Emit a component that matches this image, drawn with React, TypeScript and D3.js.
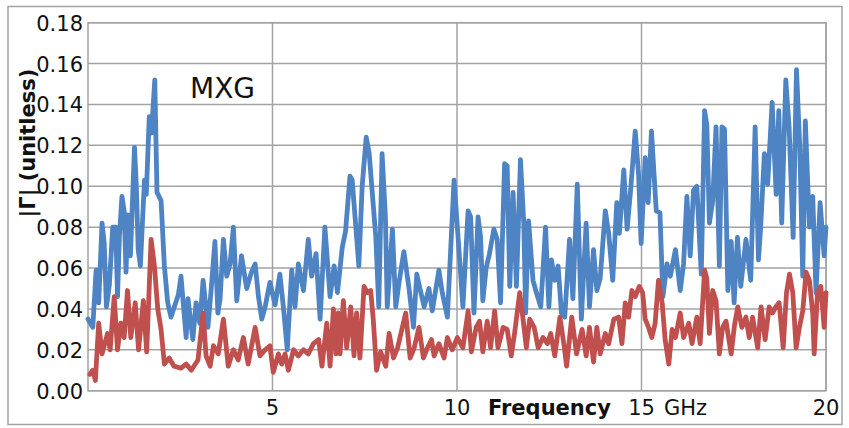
import React from "react";
import * as d3 from "d3";

// Frequency (GHz) / |Γ| samples
const blueSeries: [number, number][] = [
  [0.0,0.035],[0.13,0.031],[0.22,0.059],[0.29,0.043],[0.38,0.082],[0.44,0.072],[0.50,0.041],[0.58,0.052],[0.67,0.080],[0.75,0.080],
  [0.80,0.046],[0.85,0.075],[0.92,0.095],[0.98,0.088],[1.03,0.058],[1.08,0.086],[1.15,0.066],[1.26,0.119],[1.31,0.100],[1.36,0.069],
  [1.42,0.061],[1.53,0.103],[1.58,0.096],[1.66,0.134],[1.72,0.126],[1.81,0.152],[1.87,0.097],[1.98,0.093],[2.07,0.061],[2.16,0.043],
  [2.25,0.036],[2.32,0.040],[2.45,0.047],[2.52,0.056],[2.58,0.043],[2.66,0.026],[2.71,0.045],[2.84,0.025],[2.93,0.043],[3.03,0.033],
  [3.12,0.054],[3.25,0.031],[3.34,0.050],[3.44,0.073],[3.52,0.038],[3.58,0.045],[3.67,0.074],[3.76,0.056],[3.85,0.062],[3.94,0.080],
  [4.03,0.044],[4.16,0.066],[4.30,0.050],[4.43,0.058],[4.53,0.062],[4.62,0.046],[4.71,0.035],[4.80,0.041],[4.93,0.053],[5.07,0.042],
  [5.20,0.057],[5.30,0.040],[5.40,0.020],[5.52,0.059],[5.61,0.041],[5.70,0.062],[5.84,0.049],[5.97,0.074],[6.06,0.056],[6.18,0.067],
  [6.29,0.035],[6.42,0.080],[6.56,0.046],[6.67,0.061],[6.76,0.048],[6.89,0.070],[6.98,0.078],[7.10,0.105],[7.16,0.103],[7.34,0.061],
  [7.43,0.100],[7.54,0.124],[7.62,0.116],[7.80,0.075],[7.88,0.041],[7.97,0.116],[8.06,0.085],[8.11,0.041],[8.25,0.079],[8.34,0.041],
  [8.43,0.053],[8.56,0.068],[8.70,0.050],[8.82,0.031],[8.91,0.057],[9.02,0.048],[9.11,0.041],[9.24,0.050],[9.33,0.039],[9.51,0.059],
  [9.60,0.048],[9.74,0.036],[9.92,0.103],[10.01,0.080],[10.16,0.041],[10.30,0.088],[10.37,0.085],[10.46,0.038],[10.57,0.085],[10.64,0.075],
  [10.70,0.044],[10.79,0.060],[10.88,0.067],[11.00,0.079],[11.09,0.074],[11.18,0.043],[11.29,0.111],[11.36,0.110],[11.43,0.051],[11.52,0.097],
  [11.61,0.051],[11.72,0.113],[11.81,0.082],[11.86,0.038],[11.94,0.083],[12.06,0.054],[12.15,0.048],[12.27,0.041],[12.40,0.080],[12.49,0.041],
  [12.56,0.064],[12.65,0.054],[12.74,0.061],[12.83,0.038],[12.92,0.036],[13.05,0.074],[13.14,0.045],[13.26,0.101],[13.37,0.035],[13.50,0.082],
  [13.59,0.041],[13.70,0.069],[13.79,0.049],[13.88,0.055],[14.02,0.088],[14.11,0.077],[14.22,0.054],[14.33,0.092],[14.40,0.077],[14.52,0.108],
  [14.61,0.079],[14.70,0.097],[14.83,0.127],[14.92,0.106],[14.99,0.072],[15.10,0.114],[15.18,0.092],[15.27,0.127],[15.40,0.088],[15.50,0.087],
  [15.58,0.046],[15.69,0.062],[15.78,0.056],[15.92,0.069],[16.05,0.049],[16.14,0.062],[16.23,0.095],[16.32,0.066],[16.41,0.098],[16.50,0.100],
  [16.62,0.057],[16.71,0.137],[16.77,0.130],[16.84,0.082],[16.93,0.093],[17.02,0.129],[17.11,0.061],[17.18,0.129],[17.25,0.128],[17.34,0.049],
  [17.43,0.073],[17.51,0.043],[17.60,0.075],[17.69,0.051],[17.83,0.074],[17.96,0.054],[18.08,0.129],[18.17,0.064],[18.23,0.080],[18.33,0.116],
  [18.42,0.101],[18.54,0.141],[18.65,0.096],[18.72,0.137],[18.80,0.082],[18.91,0.152],[19.00,0.129],[19.11,0.075],[19.20,0.157],[19.29,0.119],
  [19.37,0.056],[19.44,0.132],[19.55,0.080],[19.64,0.095],[19.73,0.048],[19.84,0.092],[19.95,0.066],[20.0,0.080],
];

const redSeries: [number, number][] = [
  [0.05,0.008],[0.13,0.010],[0.20,0.005],[0.29,0.033],[0.38,0.018],[0.44,0.022],[0.53,0.028],[0.60,0.020],[0.71,0.046],[0.80,0.020],
  [0.89,0.033],[0.98,0.026],[1.07,0.049],[1.16,0.026],[1.28,0.043],[1.37,0.020],[1.50,0.044],[1.59,0.019],[1.71,0.074],[1.80,0.061],
  [1.89,0.040],[1.98,0.030],[2.07,0.013],[2.20,0.016],[2.33,0.012],[2.52,0.011],[2.66,0.013],[2.80,0.010],[2.98,0.015],[3.12,0.038],
  [3.20,0.017],[3.31,0.012],[3.40,0.022],[3.53,0.018],[3.67,0.035],[3.80,0.012],[3.94,0.020],[4.07,0.015],[4.21,0.026],[4.34,0.013],
  [4.53,0.031],[4.66,0.017],[4.80,0.020],[4.93,0.022],[5.02,0.009],[5.16,0.018],[5.25,0.013],[5.34,0.018],[5.43,0.010],[5.57,0.020],
  [5.70,0.017],[5.84,0.020],[5.97,0.018],[6.11,0.023],[6.25,0.025],[6.34,0.012],[6.47,0.033],[6.56,0.012],[6.65,0.040],[6.72,0.018],
  [6.78,0.038],[6.83,0.018],[6.92,0.044],[7.01,0.021],[7.12,0.041],[7.21,0.017],[7.28,0.038],[7.37,0.016],[7.48,0.051],[7.57,0.048],
  [7.66,0.049],[7.73,0.035],[7.82,0.010],[7.93,0.019],[8.07,0.012],[8.16,0.028],[8.28,0.016],[8.39,0.021],[8.52,0.031],[8.61,0.038],
  [8.73,0.016],[8.84,0.021],[8.97,0.031],[9.09,0.016],[9.20,0.021],[9.31,0.025],[9.38,0.017],[9.51,0.023],[9.65,0.016],[9.74,0.026],
  [9.87,0.020],[10.01,0.026],[10.16,0.021],[10.30,0.039],[10.39,0.019],[10.52,0.031],[10.61,0.034],[10.70,0.019],[10.82,0.034],[10.91,0.021],
  [11.02,0.039],[11.11,0.021],[11.25,0.031],[11.36,0.030],[11.47,0.017],[11.56,0.028],[11.70,0.048],[11.79,0.035],[11.88,0.021],[11.97,0.035],
  [12.09,0.031],[12.20,0.021],[12.33,0.026],[12.45,0.023],[12.54,0.028],[12.65,0.017],[12.79,0.036],[12.91,0.021],[12.97,0.012],[13.11,0.036],
  [13.24,0.018],[13.39,0.030],[13.50,0.017],[13.59,0.031],[13.70,0.014],[13.79,0.031],[13.88,0.018],[14.02,0.028],[14.11,0.023],[14.25,0.035],
  [14.38,0.036],[14.47,0.023],[14.56,0.043],[14.65,0.036],[14.74,0.049],[14.83,0.046],[14.94,0.051],[15.03,0.048],[15.10,0.035],[15.19,0.031],
  [15.28,0.026],[15.37,0.033],[15.46,0.054],[15.56,0.043],[15.64,0.025],[15.74,0.013],[15.83,0.030],[15.92,0.026],[16.05,0.038],[16.14,0.026],
  [16.28,0.033],[16.37,0.023],[16.50,0.036],[16.59,0.023],[16.71,0.059],[16.77,0.055],[16.84,0.028],[16.93,0.049],[17.02,0.044],[17.11,0.018],
  [17.20,0.031],[17.29,0.034],[17.43,0.018],[17.52,0.032],[17.61,0.041],[17.72,0.031],[17.83,0.036],[17.92,0.026],[18.01,0.036],[18.15,0.021],
  [18.24,0.041],[18.35,0.025],[18.46,0.041],[18.55,0.038],[18.64,0.041],[18.73,0.043],[18.84,0.021],[18.93,0.048],[19.01,0.057],[19.10,0.048],
  [19.19,0.021],[19.28,0.031],[19.37,0.039],[19.46,0.058],[19.55,0.054],[19.64,0.038],[19.68,0.018],[19.77,0.048],[19.86,0.051],[19.95,0.031],
  [20.0,0.048],
];

const yTicks = [0, 0.02, 0.04, 0.06, 0.08, 0.1, 0.12, 0.14, 0.16, 0.18];
const xTicks = [5, 10, 15, 20];
const xDomain: [number, number] = [0, 20];
const yDomain: [number, number] = [0, 0.18];

const W = 849;
const H = 428;
const M = { left: 88, right: 826, top: 22.7, bottom: 390.7 };
const FONT = "'DejaVu Sans', Verdana, sans-serif";
const GRID = "#a3a3a3";

export default function App() {
  const x = d3.scaleLinear().domain(xDomain).range([M.left, M.right]);
  const y = d3.scaleLinear().domain(yDomain).range([M.bottom, M.top]);
  const line = d3
    .line<[number, number]>()
    .x((d) => x(d[0]))
    .y((d) => y(d[1]));

  return (
    <svg
      width={W}
      height={H}
      style={{ position: "absolute", left: 0, top: 0, background: "#fff" }}
      fontFamily={FONT}
    >
      <rect x={0} y={0} width={W} height={H} fill="#fff" />
      <rect x={8} y={6.5} width={834} height={418} fill="none" stroke={GRID} strokeWidth={1.5} />

      {/* grid */}
      {yTicks.map((t) => (
        <line key={"gy" + t} x1={M.left} x2={M.right} y1={y(t)} y2={y(t)} stroke={GRID} strokeWidth={1.5} />
      ))}
      {xTicks.map((t) => (
        <line key={"gx" + t} x1={x(t)} x2={x(t)} y1={M.top} y2={M.bottom} stroke={GRID} strokeWidth={1.5} />
      ))}
      <rect x={M.left} y={M.top} width={M.right - M.left} height={M.bottom - M.top} fill="none" stroke={GRID} strokeWidth={1.5} />

      {/* series */}
      <path d={line(blueSeries) || ""} fill="none" stroke="#4f84c4" strokeWidth={4.8} strokeLinejoin="round" strokeLinecap="round" />
      <path d={line(redSeries) || ""} fill="none" stroke="#c0504d" strokeWidth={4.8} strokeLinejoin="round" strokeLinecap="round" />

      {/* y tick labels */}
      {yTicks.map((t) => (
        <text key={"ty" + t} x={83} y={y(t) + 8} textAnchor="end" fontSize={21} fill="#111">
          {t.toFixed(2)}
        </text>
      ))}
      {/* x tick labels */}
      {xTicks.map((t) => (
        <text key={"tx" + t} x={x(t)} y={415} textAnchor="middle" fontSize={21} fill="#111">
          {t}
        </text>
      ))}
      <text x={664} y={415} fontSize={21} fill="#111">GHz</text>
      <text x={488} y={415} fontSize={21} fontWeight="bold" fill="#111">Frequency</text>

      {/* y axis title */}
      <text
        transform="translate(35,143) rotate(-90)"
        textAnchor="middle"
        fontSize={21}
        fontWeight="bold"
        fill="#111"
      >
        |Γ| (unitless)
      </text>

      <text x={190} y={98} fontSize={28} fill="#111">MXG</text>
    </svg>
  );
}
